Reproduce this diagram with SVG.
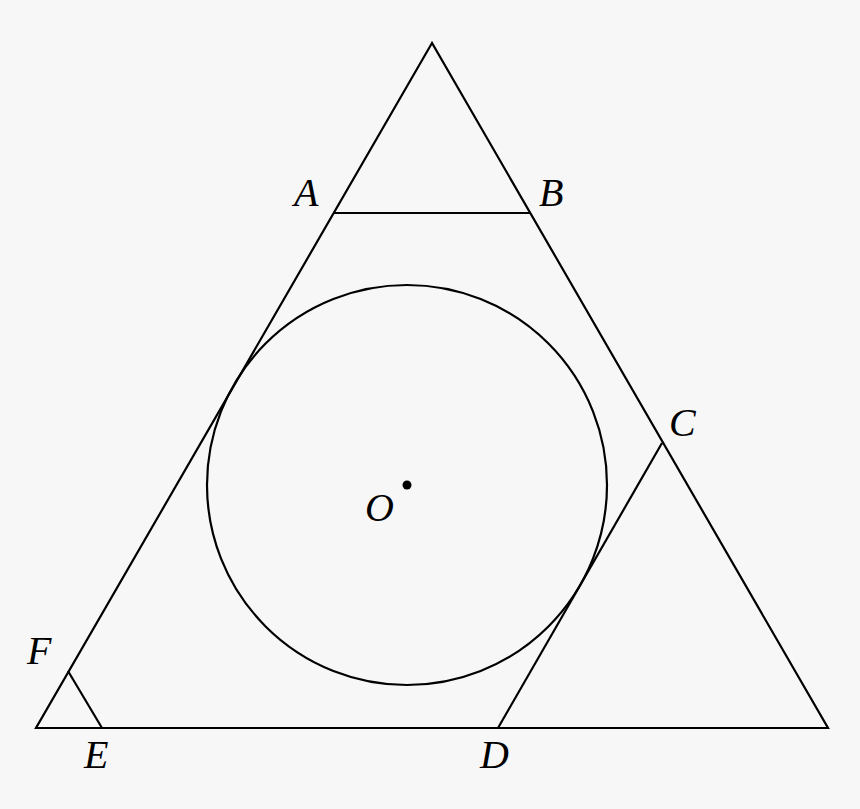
<svg xmlns="http://www.w3.org/2000/svg" width="860" height="809" viewBox="0 0 860 809">
<style>
.ln{fill:none;stroke:#000;stroke-width:2.2;stroke-linejoin:miter}
.lb{font-family:"Liberation Serif","DejaVu Serif",serif;font-style:italic;font-size:40px;fill:#000}
</style>
<rect width="860" height="809" fill="#f7f7f7"/>
<g id="triangle"><polygon class="ln" points="432,43 36,728 828,728"/></g>
<g id="circle"><circle class="ln" cx="407" cy="485" r="200"/><circle cx="407" cy="485" r="4.5" fill="#000"/></g>
<g id="connectors">
<line class="ln" x1="334" y1="213" x2="530" y2="213"/>
<line class="ln" x1="662" y1="443" x2="498" y2="728"/>
<line class="ln" x1="68" y1="671" x2="102" y2="728"/>
</g>
<g id="labels">
<text class="lb" x="294" y="206">A</text>
<text class="lb" x="539" y="206">B</text>
<text class="lb" x="669" y="436">C</text>
<text class="lb" x="365" y="521">O</text>
<text class="lb" x="27" y="664">F</text>
<text class="lb" x="84" y="768">E</text>
<text class="lb" x="480" y="768">D</text>
</g>
</svg>
